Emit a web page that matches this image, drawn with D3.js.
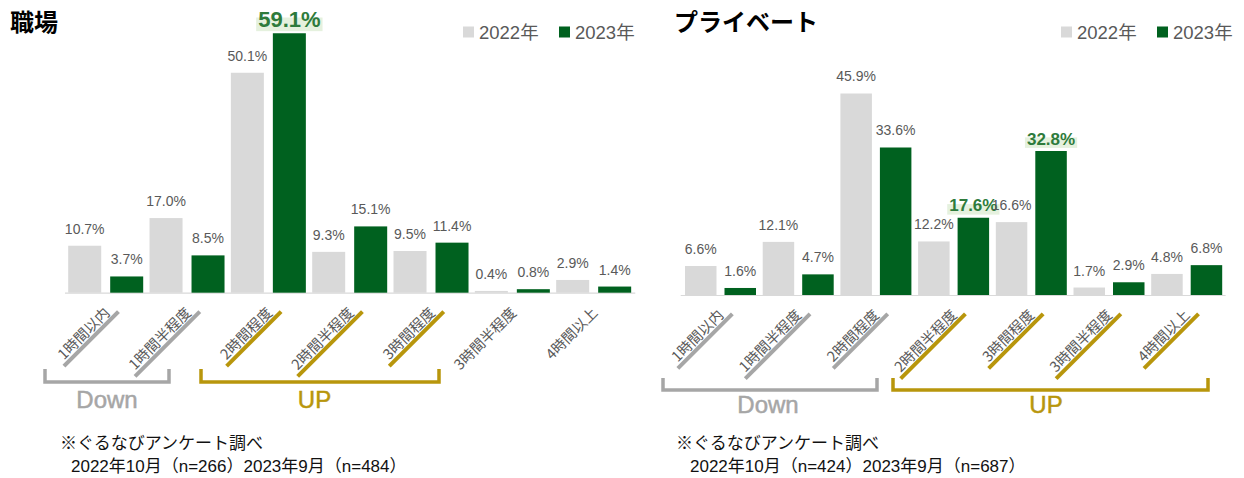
<!DOCTYPE html>
<html><head><meta charset="utf-8">
<script src="https://cdn.jsdelivr.net/npm/d3@7"></script>
<style>html,body{margin:0;padding:0;background:#fff;} svg{display:block;}</style>
</head><body><svg id="c" width="1244" height="478"></svg>
<script>
// ---- data ----
const categories = ["1時間以内","1時間半程度","2時間程度","2時間半程度","3時間程度","3時間半程度","4時間以上"];
const seriesNames = ["2022年","2023年"];
const work2022 = [10.7,17.0,50.1,9.3,9.5,0.4,2.9];
const work2023 = [3.7,8.5,59.1,15.1,11.4,0.8,1.4];
const private2022 = [6.6,12.1,45.9,12.2,16.6,1.7,4.8];
const private2023 = [1.6,4.7,33.6,17.6,32.8,2.9,6.8];
const workHighlight = ["2時間程度"];
const privateHighlight = ["2時間半程度","3時間程度"];
const workDown = ["1時間以内","1時間半程度"];
const workUp = ["2時間程度","2時間半程度","3時間程度"];
const privateDown = ["1時間以内","1時間半程度","2時間程度"];
const privateUp = ["2時間半程度","3時間程度","3時間半程度","4時間以上"];
const titles = ["職場","プライベート"];
const groupLabels = ["Down","UP"];
const workNotes = ["※ぐるなびアンケート調べ","2022年10月（n=266）2023年9月（n=484）"];
const privateNotes = ["※ぐるなびアンケート調べ","2022年10月（n=424）2023年9月（n=687）"];

// ---- styles ----
const C_GRAY = "#D9D9D9", C_GREEN = "#00611F", C_TXT = "#595959";
const C_DOWN = "#A6A6A6", C_UP = "#B8960C";
const F_CAT = "'Noto Sans CJK JP',sans-serif";
const F_LAT = "'Liberation Sans','Noto Sans CJK JP',sans-serif";

const svg = d3.select("#c");

const panels = [
  {title:titles[0], v22:work2022, v23:work2023, hi:workHighlight, down:workDown, up:workUp, notes:workNotes,
   xr:[65,634.3], inner:[3.2,78.2], pad:0.214, base:292.7, titleX:10, legendX:463, hiSize:22,
   downBr:[45,169], upBr:[201,439], brY:[369,382], gY:408, downX:107, upX:314.5, noteX:[60,71]},
  {title:titles[1], v22:private2022, v23:private2023, hi:privateHighlight, down:privateDown, up:privateUp, notes:privateNotes,
   xr:[680.7,1224.6], inner:[4.3,75.3], pad:0.2025, base:295, titleX:674, legendX:1061, hiSize:17,
   downBr:[663,877], upBr:[893,1208], brY:[378,390], gY:413, downX:768, upX:1046, noteX:[676,690]}
];

panels.forEach(p => {
  const g = svg.append("g");
  const x0 = d3.scaleBand().domain(categories).range(p.xr).paddingInner(0).paddingOuter(0);
  const x1 = d3.scaleBand().domain(seriesNames).range(p.inner).paddingInner(p.pad).paddingOuter(0);
  const y = d3.scaleLinear().domain([0,60]).range([p.base, p.base - 60*4.39]);

  // title
  g.append("text").attr("x",p.titleX).attr("y",31).attr("font-family",F_CAT).attr("font-weight","bold")
    .attr("font-size",24).attr("fill","#000").text(p.title);

  // legend
  const lg = g.append("g").attr("transform",`translate(${p.legendX},0)`);
  const lgOff = [0, 96];
  seriesNames.forEach((s,i) => {
    lg.append("rect").attr("x",lgOff[i]).attr("y",26.5).attr("width",11).attr("height",11)
      .attr("fill", i===0 ? C_GRAY : C_GREEN);
    lg.append("text").attr("x",lgOff[i]+16).attr("y",38.5).attr("font-family",F_LAT)
      .attr("font-size",18.5).attr("fill",C_TXT).text(s);
  });

  // axis baseline
  g.append("line").attr("x1",p.xr[0]).attr("x2",p.xr[1]+1).attr("y1",p.base+0.5).attr("y2",p.base+0.5)
    .attr("stroke","#D9D9D9").attr("stroke-width",1.2);

  const rows = categories.map((c,i) => ({c, vals:[p.v22[i], p.v23[i]]}));
  const cell = g.selectAll("g.cat").data(rows).join("g").attr("class","cat")
    .attr("transform", d => `translate(${x0(d.c)},0)`);
  const bars = cell.selectAll("g.b").data(d => d.vals.map((v,j) => ({c:d.c, s:seriesNames[j], v, j})))
    .join("g").attr("class","b");
  bars.append("rect")
    .attr("x", d => x1(d.s)).attr("width", x1.bandwidth())
    .attr("y", d => y(d.v)).attr("height", d => p.base - y(d.v))
    .attr("fill", d => d.j===0 ? C_GRAY : C_GREEN);

  const isHi = d => d.j===1 && p.hi.includes(d.c);
  // normal labels
  bars.filter(d => !isHi(d)).append("text")
    .attr("x", d => x1(d.s) + x1.bandwidth()/2).attr("y", d => y(d.v) - 12)
    .attr("text-anchor","middle").attr("font-family",F_LAT).attr("font-size",14)
    .attr("fill",C_TXT).text(d => d.v.toFixed(1)+"%");
  // highlighted labels with marker background
  bars.filter(isHi).each(function(d){
    const sel = d3.select(this);
    const cx = x1(d.s) + x1.bandwidth()/2;
    const by = y(d.v) - 6.5;
    const t = sel.append("text").attr("x",cx).attr("y",by).attr("text-anchor","middle")
      .attr("font-family",F_LAT).attr("font-weight","bold").attr("font-size",p.hiSize)
      .attr("fill","#2E7B3C").text(d.v.toFixed(1)+"%");
    const w = t.node().getComputedTextLength();
    sel.insert("rect","text").attr("x",cx - w/2 - 2).attr("width",w+4)
      .attr("y",by - 0.42*p.hiSize).attr("height",0.62*p.hiSize).attr("fill","#E2EFDA").attr("opacity",0.9);
  });
  bars.filter(isHi).raise();

  // category labels, rotated, with underline
  categories.forEach(c => {
    const cx = x0(c) + x0.bandwidth()/2;
    const lgp = g.append("g").attr("transform",`translate(${cx+5},${p.base+21}) rotate(-45)`);
    const t = lgp.append("text").attr("x",0).attr("y",0).attr("text-anchor","end")
      .attr("font-family",F_CAT).attr("font-size",14.5).attr("fill",C_TXT).text(c);
    const len = t.node().getComputedTextLength();
    let col = null;
    if (p.down.includes(c)) col = C_DOWN;
    if (p.up.includes(c)) col = C_UP;
    if (col) lgp.insert("line","text").attr("x1",-len-4).attr("x2",7).attr("y1",4).attr("y2",4)
      .attr("stroke",col).attr("stroke-width",4);
  });

  // brackets
  const br = (xs, col) => g.append("path")
    .attr("d", `M${xs[0]},${p.brY[0]} V${p.brY[1]} H${xs[1]} V${p.brY[0]}`)
    .attr("fill","none").attr("stroke",col).attr("stroke-width",3.5);
  br(p.downBr, C_DOWN); br(p.upBr, C_UP);
  g.append("text").attr("x",p.downX).attr("y",p.gY).attr("text-anchor","middle").attr("font-family",F_LAT)
    .attr("font-size",24).attr("fill",C_DOWN).attr("stroke",C_DOWN).attr("stroke-width",0.5).text(groupLabels[0]);
  g.append("text").attr("x",p.upX).attr("y",p.gY).attr("text-anchor","middle").attr("font-family",F_LAT)
    .attr("font-size",24).attr("fill",C_UP).attr("stroke",C_UP).attr("stroke-width",0.5).text(groupLabels[1]);

  // notes
  g.append("text").attr("x",p.noteX[0]).attr("y",449).attr("font-family",F_LAT).attr("font-size",17)
    .attr("fill","#111").text(p.notes[0]);
  g.append("text").attr("x",p.noteX[1]).attr("y",472).attr("font-family",F_LAT).attr("font-size",17)
    .attr("fill","#111").text(p.notes[1]);
});
</script>
</body></html>
